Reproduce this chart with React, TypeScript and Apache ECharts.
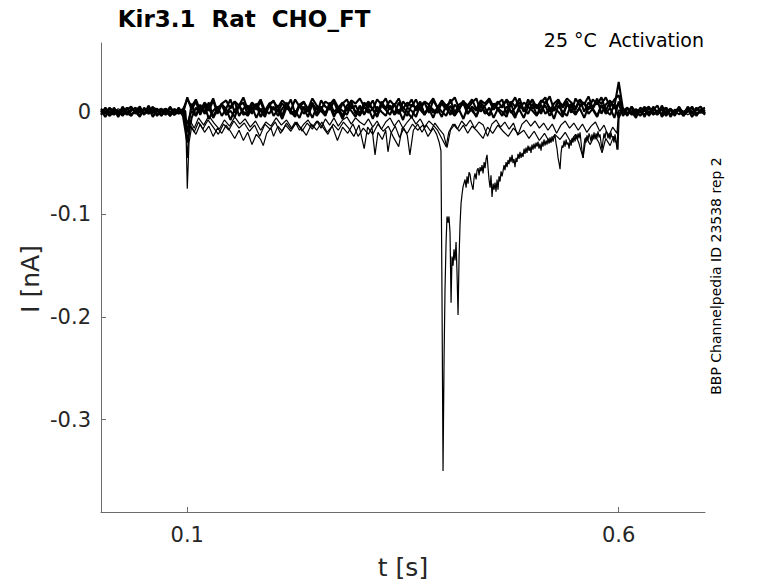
import React, { useEffect, useRef } from "react";
import * as echarts from "echarts";

// shared sampling grid for the baseline sweeps (s)
const T: number[] = [
  0, 0.005, 0.01, 0.015, 0.02, 0.025, 0.03, 0.035, 0.04, 0.045,
  0.05, 0.055, 0.06, 0.065, 0.07, 0.075, 0.08, 0.085, 0.09, 0.095,
  0.1, 0.105, 0.11, 0.115, 0.12, 0.125, 0.13, 0.135, 0.14, 0.145,
  0.15, 0.155, 0.16, 0.165, 0.17, 0.175, 0.18, 0.185, 0.19, 0.195,
  0.2, 0.205, 0.21, 0.215, 0.22, 0.225, 0.23, 0.235, 0.24, 0.245,
  0.25, 0.255, 0.26, 0.265, 0.27, 0.275, 0.28, 0.285, 0.29, 0.295,
  0.3, 0.305, 0.31, 0.315, 0.32, 0.325, 0.33, 0.335, 0.34, 0.345,
  0.35, 0.355, 0.36, 0.365, 0.37, 0.375, 0.38, 0.385, 0.39, 0.395,
  0.4, 0.405, 0.41, 0.415, 0.42, 0.425, 0.43, 0.435, 0.44, 0.445,
  0.45, 0.455, 0.46, 0.465, 0.47, 0.475, 0.48, 0.485, 0.49, 0.495,
  0.5, 0.505, 0.51, 0.515, 0.52, 0.525, 0.53, 0.535, 0.54, 0.545,
  0.55, 0.555, 0.56, 0.565, 0.57, 0.575, 0.58, 0.585, 0.59, 0.595,
  0.6, 0.605, 0.61, 0.615, 0.62, 0.625, 0.63, 0.635, 0.64, 0.645,
  0.65, 0.655, 0.66, 0.665, 0.67, 0.675, 0.68, 0.685, 0.69, 0.695,
  0.7,
];

// baseline sweeps (nA) on grid T
const B1: number[] = [
  0.003, -0.002, 0.004, -0.003, 0.001, -0.004, 0.002, 0.005, -0.002, 0.003,
  -0.003, 0.006, -0.001, 0.002, -0.004, 0.003, 0.0, -0.003, 0.004, -0.002,
  0.014,
  0.002, 0.01, -0.003, 0.008, 0.001, 0.011, -0.002, 0.007, 0.003, 0.012,
  -0.001, 0.006, 0.009, -0.003, 0.008, 0.002, 0.01, -0.002, 0.006, 0.011,
  0.0, 0.008, 0.004, 0.012, -0.002, 0.007, 0.01, 0.001, 0.009, -0.003,
  0.011, 0.005, 0.002, 0.01, -0.001, 0.008, 0.012, 0.003, 0.006, -0.002,
  0.009, 0.004, 0.011, 0.0, 0.007, 0.013, 0.002, 0.008, -0.002, 0.01,
  0.005, 0.012, 0.001, 0.007, 0.009, -0.001, 0.011, 0.004, 0.008, 0.002,
  0.012, -0.001, 0.007, 0.01, 0.003, 0.009, 0.013, 0.0, 0.006, 0.011,
  0.002, 0.008, 0.012, -0.002, 0.01, 0.005, 0.013, 0.001, 0.007, 0.011,
  0.003, 0.009, 0.014, 0.0, 0.008, 0.012, 0.004, 0.01, -0.001, 0.013,
  0.006, 0.009, 0.002, 0.012, 0.007, 0.014, 0.001, 0.01, 0.005, 0.029,
  0.002, -0.004, 0.005, -0.001, 0.003, -0.005, 0.004, 0.0, -0.003, 0.006,
  -0.002, 0.002, -0.004, 0.004, -0.001, 0.003, -0.005, 0.002, 0.005, -0.002,
];

const B2: number[] = [
  -0.003, 0.004, -0.001, 0.002, -0.005, 0.003, -0.002, 0.001, 0.004, -0.004,
  0.002, -0.001, 0.005, -0.003, 0.001, 0.003, -0.004, 0.002, -0.002, 0.003,
  -0.02,
  0.008, -0.004, 0.006, 0.0, 0.009, -0.005, 0.004, 0.007, -0.003, 0.005,
  0.01, -0.004, 0.003, 0.006, -0.002, 0.008, 0.001, -0.005, 0.007, 0.002,
  0.006, -0.004, 0.009, 0.001, -0.003, 0.007, 0.003, -0.005, 0.008, 0.002,
  0.005, -0.003, 0.009, 0.0, 0.004, -0.004, 0.006, 0.01, -0.002, 0.005,
  -0.003, 0.008, 0.002, -0.004, 0.01, 0.003, 0.006, -0.002, 0.009, 0.001,
  -0.004, 0.007, 0.004, 0.01, -0.003, 0.006, 0.002, -0.001, 0.009, 0.004,
  -0.003, 0.007, 0.002, 0.011, -0.002, 0.005, 0.001, 0.009, 0.004, -0.004,
  0.008, 0.003, 0.006, 0.011, -0.001, 0.004, 0.009, 0.0, 0.012, 0.003,
  0.007, -0.002, 0.01, 0.004, 0.001, 0.011, -0.003, 0.008, 0.005, 0.002,
  0.012, 0.0, 0.009, 0.004, 0.013, -0.002, 0.007, 0.011, 0.003, 0.008,
  -0.004, 0.003, 0.0, -0.006, 0.004, 0.001, -0.003, 0.005, -0.002, 0.002,
  0.004, -0.005, 0.001, 0.003, -0.003, 0.005, 0.0, -0.004, 0.002, 0.004,
];

const B3: number[] = [
  0.001, -0.005, 0.003, 0.0, -0.003, 0.005, -0.001, -0.004, 0.002, 0.0,
  -0.002, 0.004, -0.005, 0.001, 0.003, -0.003, 0.005, -0.001, 0.002, -0.004,
  -0.03,
  -0.006, 0.004, -0.002, 0.006, -0.007, 0.001, 0.005, -0.004, 0.003, -0.008,
  0.002, 0.006, -0.003, 0.0, 0.005, -0.006, 0.003, -0.002, 0.007, -0.004,
  0.002, -0.007, 0.004, 0.0, -0.005, 0.006, -0.002, 0.003, -0.006, 0.005,
  0.001, -0.004, 0.007, -0.003, 0.002, -0.007, 0.004, 0.001, -0.005, 0.006,
  -0.002, 0.003, -0.007, 0.005, 0.0, -0.004, 0.006, -0.003, 0.002, -0.008,
  0.004, 0.001, -0.005, 0.007, -0.002, 0.003, -0.006, 0.005, 0.0, -0.004,
  0.006, -0.003, 0.002, -0.007, 0.005, 0.001, -0.004, 0.007, -0.002, 0.004,
  -0.006, 0.003, 0.0, -0.005, 0.008, -0.003, 0.002, -0.006, 0.005, 0.001,
  -0.004, 0.007, -0.002, 0.003, -0.007, 0.006, 0.0, -0.004, 0.008, -0.001,
  0.003, -0.006, 0.005, 0.002, -0.005, 0.007, -0.002, 0.004, -0.006, 0.01,
  0.003, -0.002, 0.005, -0.004, 0.001, 0.004, -0.003, 0.002, 0.006, -0.005,
  0.0, 0.003, -0.002, 0.005, -0.004, 0.001, 0.004, -0.003, 0.002, -0.001,
];

const B4: number[] = [
  -0.001, 0.003, -0.004, 0.002, 0.0, -0.002, 0.004, -0.003, 0.001, 0.005,
  -0.002, 0.0, 0.003, -0.004, 0.002, -0.001, 0.004, -0.003, 0.001, 0.002,
  0.012,
  0.005, 0.012, 0.001, 0.009, 0.004, 0.013, 0.0, 0.008, 0.011, 0.003,
  0.01, 0.006, 0.014, 0.002, 0.009, 0.005, 0.012, 0.001, 0.008, 0.01,
  0.004, 0.011, 0.007, 0.001, 0.012, 0.005, 0.009, 0.003, 0.013, 0.006,
  0.002, 0.01, 0.007, 0.012, 0.004, 0.009, 0.001, 0.011, 0.008, 0.013,
  0.005, 0.01, 0.002, 0.012, 0.007, 0.004, 0.011, 0.006, 0.013, 0.003,
  0.009, 0.005, 0.012, 0.002, 0.01, 0.007, 0.013, 0.004, 0.011, 0.006,
  0.009, 0.014, 0.003, 0.01, 0.006, 0.012, 0.002, 0.011, 0.008, 0.013,
  0.005, 0.01, 0.004, 0.012, 0.007, 0.014, 0.003, 0.009, 0.006, 0.012,
  0.004, 0.011, 0.008, 0.015, 0.002, 0.01, 0.006, 0.013, 0.009, 0.004,
  0.012, 0.007, 0.015, 0.003, 0.011, 0.008, 0.014, 0.005, 0.012, 0.016,
  0.001, 0.004, -0.003, 0.002, -0.001, 0.005, -0.004, 0.003, 0.0, -0.002,
  0.004, -0.003, 0.002, 0.001, -0.004, 0.003, -0.002, 0.004, -0.001, 0.002,
];

const B5: number[] = [
  0.002, 0.0, -0.004, 0.004, -0.002, 0.001, -0.003, 0.003, 0.0, -0.005,
  0.004, -0.002, 0.001, 0.003, -0.003, 0.002, -0.004, 0.003, -0.001, 0.001,
  -0.012,
  0.001, -0.004, 0.007, -0.002, 0.004, -0.006, 0.002, 0.008, -0.003, 0.001,
  -0.005, 0.006, 0.0, -0.004, 0.003, 0.007, -0.005, 0.002, -0.002, 0.005,
  -0.004, 0.003, 0.008, -0.002, 0.001, -0.006, 0.005, 0.0, 0.007, -0.004,
  0.002, -0.001, 0.006, -0.005, 0.004, 0.001, -0.003, 0.007, 0.0, -0.004,
  0.005, -0.001, 0.003, -0.005, 0.006, 0.002, -0.003, 0.008, -0.002, 0.004,
  0.0, -0.006, 0.005, 0.002, -0.003, 0.006, -0.001, 0.003, -0.005, 0.007,
  0.001, -0.004, 0.004, 0.008, -0.002, 0.003, -0.005, 0.006, 0.0, -0.003,
  0.007, 0.002, -0.004, 0.005, 0.001, -0.006, 0.006, 0.003, -0.002, 0.008,
  -0.003, 0.002, 0.006, -0.004, 0.004, 0.0, -0.005, 0.007, 0.002, -0.003,
  0.005, 0.009, -0.002, 0.003, -0.004, 0.006, 0.001, -0.003, 0.007, -0.006,
  0.003, -0.002, 0.004, 0.0, -0.004, 0.002, 0.005, -0.003, 0.001, 0.003,
  -0.004, 0.002, -0.001, 0.004, -0.003, 0.0, 0.005, -0.002, 0.001, -0.003,
];

// sweep with the large capacitive transient at 0.1 s: [t (s), I (nA)]
const L1: number[][] = [
  [0, 0.002], [0.01, -0.003], [0.02, 0.003], [0.03, -0.002], [0.04, 0.004], [0.05, -0.001],
  [0.06, 0.002], [0.07, -0.004], [0.08, 0.003], [0.09, -0.002], [0.098, 0.001], [0.1, -0.075],
  [0.102, -0.03], [0.105, -0.015], [0.11, -0.022], [0.115, -0.012], [0.12, -0.02], [0.125, -0.014],
  [0.13, -0.024], [0.135, -0.016], [0.14, -0.021], [0.145, -0.013], [0.15, -0.019], [0.155, -0.026],
  [0.16, -0.018], [0.165, -0.028], [0.17, -0.02], [0.175, -0.032], [0.18, -0.022], [0.185, -0.027],
  [0.188, -0.033], [0.192, -0.021], [0.197, -0.016], [0.2, -0.024], [0.205, -0.014], [0.21, -0.019],
  [0.215, -0.011], [0.22, -0.017], [0.225, -0.01], [0.23, -0.018], [0.235, -0.012], [0.24, -0.008],
  [0.245, -0.015], [0.25, -0.009], [0.255, -0.016], [0.26, -0.007], [0.265, -0.013], [0.27, -0.006],
  [0.275, -0.014], [0.28, -0.008], [0.285, -0.005], [0.29, -0.012], [0.295, -0.006], [0.3, -0.01],
  [0.305, -0.013], [0.31, -0.007], [0.315, -0.015], [0.32, -0.009], [0.325, -0.017], [0.33, -0.01],
  [0.335, -0.006], [0.34, -0.014], [0.345, -0.008], [0.35, -0.016], [0.355, -0.01], [0.36, -0.005],
  [0.365, -0.012], [0.37, -0.007], [0.375, -0.015], [0.38, -0.009], [0.385, -0.013], [0.39, -0.018],
  [0.395, -0.026], [0.4, -0.034], [0.403, -0.02], [0.408, -0.012], [0.413, -0.017], [0.418, -0.009],
  [0.423, -0.014], [0.428, -0.008], [0.433, -0.016], [0.438, -0.01], [0.443, -0.013], [0.448, -0.024],
  [0.453, -0.012], [0.458, -0.008], [0.463, -0.015], [0.468, -0.01], [0.473, -0.017], [0.478, -0.011],
  [0.483, -0.023], [0.488, -0.012], [0.493, -0.008], [0.498, -0.014], [0.503, -0.009], [0.508, -0.016],
  [0.513, -0.011], [0.518, -0.018], [0.523, -0.012], [0.528, -0.021], [0.533, -0.013], [0.538, -0.009],
  [0.543, -0.016], [0.548, -0.011], [0.553, -0.018], [0.558, -0.012], [0.563, -0.02], [0.568, -0.014],
  [0.573, -0.01], [0.578, -0.019], [0.583, -0.013], [0.588, -0.024], [0.593, -0.015], [0.598, -0.021],
  [0.6, 0.002], [0.61, -0.003], [0.62, 0.002], [0.63, -0.002], [0.64, 0.003], [0.65, -0.003],
  [0.66, 0.002], [0.67, -0.002], [0.68, 0.003], [0.69, -0.002], [0.7, 0.001],
];

// sweep with a slow inward sag and sharp dips
const L2: number[][] = [
  [0, -0.002], [0.012, 0.003], [0.025, -0.003], [0.037, 0.002], [0.05, -0.002], [0.062, 0.004],
  [0.075, -0.003], [0.087, 0.002], [0.098, -0.001], [0.1, -0.045], [0.103, -0.012], [0.108, -0.02],
  [0.113, -0.01], [0.118, -0.017], [0.124, -0.008], [0.13, -0.015], [0.136, -0.022], [0.142, -0.012],
  [0.148, -0.018], [0.154, -0.009], [0.16, -0.016], [0.166, -0.011], [0.172, -0.019], [0.178, -0.013],
  [0.184, -0.024], [0.19, -0.012], [0.196, -0.017], [0.202, -0.01], [0.208, -0.021], [0.214, -0.013],
  [0.22, -0.019], [0.226, -0.011], [0.232, -0.016], [0.238, -0.023], [0.244, -0.012], [0.25, -0.018],
  [0.256, -0.01], [0.262, -0.02], [0.268, -0.014], [0.274, -0.028], [0.28, -0.015], [0.286, -0.021],
  [0.292, -0.012], [0.298, -0.024], [0.304, -0.016], [0.31, -0.022], [0.314, -0.015], [0.3176, -0.042],
  [0.321, -0.02], [0.326, -0.027], [0.33, -0.018], [0.3326, -0.039], [0.336, -0.021], [0.341, -0.014],
  [0.346, -0.025], [0.351, -0.016], [0.355, -0.023], [0.358, -0.042], [0.362, -0.018], [0.367, -0.012],
  [0.372, -0.02], [0.377, -0.013], [0.382, -0.019], [0.387, -0.011], [0.392, -0.017], [0.397, -0.022],
  [0.401, -0.035], [0.405, -0.018], [0.41, -0.012], [0.415, -0.019], [0.42, -0.013], [0.425, -0.021],
  [0.43, -0.014], [0.435, -0.018], [0.4428, -0.026], [0.448, -0.015], [0.454, -0.021], [0.46, -0.013],
  [0.466, -0.019], [0.472, -0.024], [0.478, -0.016], [0.484, -0.022], [0.49, -0.018], [0.496, -0.026],
  [0.502, -0.019], [0.508, -0.028], [0.514, -0.021], [0.52, -0.03], [0.526, -0.022], [0.532, -0.027],
  [0.538, -0.02], [0.544, -0.029], [0.55, -0.022], [0.554, -0.031], [0.5587, -0.045], [0.562, -0.025],
  [0.567, -0.032], [0.572, -0.023], [0.577, -0.03], [0.5807, -0.04], [0.585, -0.026], [0.59, -0.033],
  [0.594, -0.024], [0.5975, -0.031], [0.5992, -0.037], [0.6005, -0.002], [0.61, 0.003], [0.62, -0.002],
  [0.63, 0.003], [0.64, -0.003], [0.65, 0.002], [0.66, -0.002], [0.67, 0.003], [0.68, -0.003],
  [0.69, 0.002], [0.7, -0.001],
];

// sweep with the large inward current event near 0.396 s
const L3: number[][] = [
  [0, 0.001], [0.012, -0.003], [0.025, 0.002], [0.037, -0.002], [0.05, 0.003], [0.062, -0.003],
  [0.075, 0.002], [0.087, -0.002], [0.098, 0.001], [0.1, -0.03], [0.103, -0.008], [0.108, -0.016],
  [0.113, -0.006], [0.119, -0.013], [0.125, -0.004], [0.131, -0.011], [0.137, -0.017], [0.143, -0.008],
  [0.149, -0.014], [0.155, -0.005], [0.161, -0.012], [0.167, -0.007], [0.173, -0.015], [0.179, -0.009],
  [0.185, -0.018], [0.191, -0.01], [0.197, -0.014], [0.203, -0.006], [0.209, -0.013], [0.215, -0.008],
  [0.221, -0.016], [0.227, -0.01], [0.233, -0.019], [0.239, -0.011], [0.245, -0.017], [0.251, -0.009],
  [0.257, -0.015], [0.263, -0.022], [0.269, -0.012], [0.275, -0.018], [0.281, -0.01], [0.287, -0.016],
  [0.293, -0.024], [0.299, -0.013], [0.305, -0.036], [0.309, -0.015], [0.315, -0.022], [0.321, -0.012],
  [0.327, -0.019], [0.333, -0.014], [0.339, -0.025], [0.345, -0.034], [0.349, -0.016], [0.355, -0.021],
  [0.361, -0.012], [0.367, -0.018], [0.373, -0.013], [0.379, -0.024], [0.385, -0.016], [0.389, -0.022],
  [0.392, -0.03], [0.394, -0.038], [0.3952, -0.18], [0.3964, -0.35], [0.3976, -0.24], [0.3987, -0.173],
  [0.3999, -0.128], [0.401, -0.102], [0.4022, -0.108], [0.4033, -0.102], [0.4045, -0.118], [0.4057, -0.186],
  [0.4068, -0.141], [0.408, -0.15], [0.4091, -0.134], [0.4103, -0.145], [0.4115, -0.127], [0.4126, -0.157],
  [0.4138, -0.198], [0.415, -0.141], [0.4161, -0.11], [0.4173, -0.089], [0.4185, -0.08], [0.4196, -0.073],
  [0.4219, -0.066], [0.4231, -0.074], [0.4242, -0.063], [0.4254, -0.07], [0.4265, -0.059], [0.4277, -0.061],
  [0.4289, -0.068], [0.43, -0.072], [0.4312, -0.076], [0.4324, -0.064], [0.4335, -0.06], [0.4347, -0.066],
  [0.4358, -0.057], [0.437, -0.055], [0.4382, -0.062], [0.4393, -0.054], [0.4405, -0.058], [0.4416, -0.052],
  [0.4428, -0.06], [0.444, -0.049], [0.4451, -0.055], [0.4463, -0.046], [0.4474, -0.042], [0.4486, -0.055],
  [0.4497, -0.066], [0.4509, -0.074], [0.452, -0.062], [0.4532, -0.083], [0.4544, -0.07], [0.4555, -0.076],
  [0.4567, -0.069], [0.4578, -0.078], [0.459, -0.066], [0.4601, -0.076], [0.4613, -0.063], [0.4625, -0.068],
  [0.4636, -0.058], [0.4648, -0.063], [0.4659, -0.058], [0.4671, -0.052], [0.4682, -0.057], [0.4694, -0.049],
  [0.4706, -0.054], [0.4717, -0.047], [0.4729, -0.051], [0.474, -0.044], [0.4752, -0.049], [0.4764, -0.042],
  [0.4775, -0.05], [0.4787, -0.046], [0.4798, -0.054], [0.481, -0.045], [0.4821, -0.049], [0.4833, -0.041],
  [0.4845, -0.046], [0.4856, -0.039], [0.4868, -0.045], [0.488, -0.04], [0.4891, -0.044], [0.4903, -0.036],
  [0.4914, -0.041], [0.4926, -0.035], [0.4937, -0.04], [0.4949, -0.033], [0.4961, -0.038], [0.4972, -0.034],
  [0.4984, -0.04], [0.4995, -0.032], [0.5007, -0.037], [0.5018, -0.031], [0.503, -0.036], [0.5042, -0.03],
  [0.5053, -0.034], [0.5065, -0.029], [0.5076, -0.036], [0.5088, -0.031], [0.51, -0.038], [0.5111, -0.029],
  [0.5123, -0.034], [0.5134, -0.027], [0.5146, -0.033], [0.5158, -0.028], [0.5169, -0.032], [0.5181, -0.026],
  [0.5192, -0.031], [0.5204, -0.025], [0.5216, -0.03], [0.5227, -0.024], [0.5239, -0.029], [0.525, -0.025],
  [0.5262, -0.023], [0.5274, -0.031], [0.5285, -0.036], [0.5297, -0.045], [0.5309, -0.05], [0.532, -0.056],
  [0.5332, -0.04], [0.5343, -0.033], [0.5355, -0.035], [0.5367, -0.028], [0.5378, -0.034], [0.539, -0.027],
  [0.5401, -0.032], [0.5413, -0.03], [0.5425, -0.036], [0.5436, -0.028], [0.5448, -0.033], [0.5459, -0.026],
  [0.547, -0.03], [0.5482, -0.024], [0.5494, -0.029], [0.5505, -0.022], [0.5517, -0.027], [0.5529, -0.021],
  [0.554, -0.026], [0.5552, -0.02], [0.5564, -0.03], [0.5575, -0.038], [0.5587, -0.045], [0.5598, -0.032],
  [0.5609, -0.026], [0.5621, -0.03], [0.5633, -0.023], [0.5644, -0.028], [0.5656, -0.021], [0.5667, -0.024],
  [0.5679, -0.029], [0.569, -0.022], [0.5702, -0.027], [0.5714, -0.02], [0.5725, -0.027], [0.5737, -0.021],
  [0.5748, -0.026], [0.576, -0.019], [0.5772, -0.025], [0.5783, -0.022], [0.5795, -0.03], [0.5807, -0.037],
  [0.5818, -0.028], [0.583, -0.021], [0.5841, -0.026], [0.5853, -0.019], [0.5864, -0.02], [0.5876, -0.026],
  [0.5887, -0.021], [0.5899, -0.027], [0.591, -0.02], [0.5922, -0.025], [0.5934, -0.024], [0.5945, -0.03],
  [0.5957, -0.022], [0.5968, -0.028], [0.598, -0.037], [0.5992, -0.013], [0.6003, -0.001], [0.605, 0.003],
  [0.61, -0.002], [0.62, 0.003], [0.63, -0.003], [0.64, 0.002], [0.65, -0.002], [0.66, 0.003],
  [0.67, -0.003], [0.68, 0.002], [0.69, -0.002], [0.7, 0.001],
];

const X_TICKS = [0.1, 0.6];
const Y_TICKS = [-0.3, -0.2, -0.1, 0];
const TITLE = "Kir3.1  Rat  CHO_FT";
const SUBTITLE = "25 °C  Activation";
const SIDE_NOTE = "BBP Channelpedia ID 23538 rep 2";
const X_NAME = "t [s]";
const Y_NAME = "I [nA]";

const FONT = "DejaVu Sans";
const TEXT_COLOR = "#262626";
const AXIS_COLOR = "#6b6b6b";

export default function App() {
  const ref = useRef<HTMLDivElement>(null);

  useEffect(() => {
    document.body.style.margin = "0";
    if (!ref.current) return;
    const chart = echarts.init(ref.current, null, { renderer: "svg" });

    const zipT = (vals: number[]) => T.map((t, i) => [t, vals[i]]);
    const baseline = [B1, B2, B3, B4, B5].map(zipT);
    const events = [L1, L2, L3];

    const lineSeries = (d: number[][], w: number) => ({
      type: "line",
      data: d,
      showSymbol: false,
      symbol: "none",
      clip: true,
      lineStyle: { color: "#000000", width: w },
      emphasis: { disabled: true },
    });

    chart.setOption({
      animation: false,
      backgroundColor: "#ffffff",
      grid: { left: 101, right: 73, top: 43, bottom: 71, containLabel: false },
      xAxis: {
        type: "value",
        min: 0,
        max: 0.7,
        axisLine: { show: true, onZero: false, lineStyle: { color: AXIS_COLOR, width: 1 } },
        axisTick: { show: true, inside: true, length: 5, customValues: X_TICKS, lineStyle: { color: AXIS_COLOR } },
        axisLabel: {
          show: true,
          customValues: X_TICKS,
          margin: 12,
          color: TEXT_COLOR,
          fontFamily: FONT,
          fontSize: 21,
          formatter: (v: number) => String(v),
        },
        splitLine: { show: false },
      },
      yAxis: {
        type: "value",
        min: -0.39,
        max: 0.067,
        axisLine: { show: true, onZero: false, lineStyle: { color: AXIS_COLOR, width: 1 } },
        axisTick: { show: true, inside: true, length: 5, customValues: Y_TICKS, lineStyle: { color: AXIS_COLOR } },
        axisLabel: {
          show: true,
          customValues: Y_TICKS,
          margin: 10,
          color: TEXT_COLOR,
          fontFamily: FONT,
          fontSize: 21,
          formatter: (v: number) => String(v),
        },
        splitLine: { show: false },
      },
      series: [
        ...baseline.map((d) => lineSeries(d, 2.1)),
        ...events.map((d) => lineSeries(d, 1.2)),
      ],
      graphic: [
        {
          type: "text",
          x: 244,
          y: 19,
          style: { text: TITLE, font: `bold 23px "${FONT}"`, fill: "#000000", align: "center", verticalAlign: "middle" },
        },
        {
          type: "text",
          x: 704,
          y: 40,
          style: { text: SUBTITLE, font: `19px "${FONT}"`, fill: "#000000", align: "right", verticalAlign: "middle" },
        },
        {
          type: "text",
          x: 716,
          y: 276,
          rotation: Math.PI / 2,
          style: { text: SIDE_NOTE, font: `14px "${FONT}"`, fill: "#000000", align: "center", verticalAlign: "middle" },
        },
        {
          type: "text",
          x: 403,
          y: 567,
          style: { text: X_NAME, font: `25px "${FONT}"`, fill: TEXT_COLOR, align: "center", verticalAlign: "middle" },
        },
        {
          type: "text",
          x: 30,
          y: 279,
          rotation: Math.PI / 2,
          style: { text: Y_NAME, font: `25px "${FONT}"`, fill: TEXT_COLOR, align: "center", verticalAlign: "middle" },
        },
      ],
    });

    return () => chart.dispose();
  }, []);

  return <div ref={ref} style={{ width: 778, height: 583 }} />;
}
